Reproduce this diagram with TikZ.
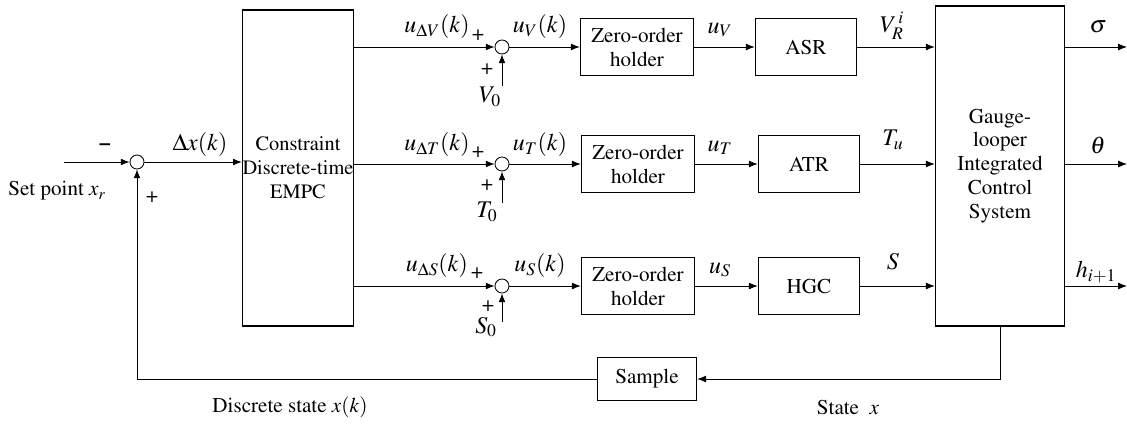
\documentclass[tikz,border=0pt]{standalone}
\usepackage[T1]{fontenc}
\usepackage{mathptmx}
\usetikzlibrary{arrows.meta}
\begin{document}
\begin{tikzpicture}[x=0.025cm,y=-0.025cm,font=\fontsize{15}{17}\selectfont]
\tikzstyle{blk}=[draw,line width=1pt,inner sep=0pt,align=center]
\tikzstyle{sm}=[draw,circle,minimum size=0.35cm,inner sep=0pt,line width=0.6pt]
\tikzstyle{ln}=[line width=0.6pt,-{Latex[length=2.2mm,width=1.7mm]}]
\tikzstyle{lb}=[font=\fontsize{17}{19}\selectfont]
\useasboundingbox (0,0) rectangle (1127,424);
% blocks
\node[blk,minimum width=2.75cm,minimum height=7.9cm,font=\fontsize{14.5}{17}\selectfont] (E) at (298,168) {Constraint\\Discrete-time\\EMPC};
\node[blk,minimum width=3.225cm,minimum height=8cm] (G) at (1000,166) {Gauge-\\looper\\Integrated\\Control\\System};
\node[blk,minimum width=2.825cm,minimum height=1.425cm] (Z1) at (637,47) {Zero-order\\holder};
\node[blk,minimum width=2.825cm,minimum height=1.425cm] (Z2) at (638,164) {Zero-order\\holder};
\node[blk,minimum width=2.825cm,minimum height=1.425cm] (Z3) at (638,286) {Zero-order\\holder};
\node[blk,minimum width=2.525cm,minimum height=1.425cm] (A1) at (806,47) {ASR};
\node[blk,minimum width=2.525cm,minimum height=1.425cm] (A2) at (809,164) {ATR};
\node[blk,minimum width=2.525cm,minimum height=1.425cm] (A3) at (809,286) {HGC};
\node[blk,minimum width=2.475cm,minimum height=1.075cm] (P) at (647,379) {Sample};
% summing points
\node[sm] (S) at (137,162) {};
\node[sm] (S1) at (502,47) {};
\node[sm] (S2) at (502,164) {};
\node[sm] (S3) at (502,286) {};
\coordinate (in) at (64,162);
\coordinate (v0) at (502,86);
\coordinate (t0) at (502,203);
\coordinate (s0) at (502,322);
\coordinate (o1) at (1127,47);
\coordinate (o2) at (1127,164);
\coordinate (o3) at (1127,286);
% connectors
\draw[ln] (in) -- (S);
\draw[ln] (S) -- (S -| E.west);
\draw[ln] (E.east |- S1) -- (S1);
\draw[ln] (E.east |- S2) -- (S2);
\draw[ln] (E.east |- S3) -- (S3);
\draw[ln] (v0) -- (S1);
\draw[ln] (t0) -- (S2);
\draw[ln] (s0) -- (S3);
\draw[ln] (S1) -- (Z1);
\draw[ln] (S2) -- (Z2);
\draw[ln] (S3) -- (Z3);
\draw[ln] (Z1) -- (A1);
\draw[ln] (Z2) -- (A2);
\draw[ln] (Z3) -- (A3);
\draw[ln] (A1) -- (A1 -| G.west);
\draw[ln] (A2) -- (A2 -| G.west);
\draw[ln] (A3) -- (A3 -| G.west);
\draw[ln] (G.east |- o1) -- (o1);
\draw[ln] (G.east |- o2) -- (o2);
\draw[ln] (G.east |- o3) -- (o3);
\draw[ln] (G.south) |- (P.east);
\draw[ln] (P.west) -| (S.south);
% labels
\node (mi) at (105,147) {\textbf{--}};
\node (pl) at (152,197) {+};
\node[lb] (dx) at (200,145) {$\Delta x(k)$};
\node (sp) at (57,191) {Set point $x_r$};
\node[lb] (l1) at (437,27) {$u_{\Delta V}(k)$};
\node[lb] (l2) at (437,145) {$u_{\Delta T}(k)$};
\node[lb] (l3) at (437,266) {$u_{\Delta S}(k)$};
\node (p1) at (478,35) {+};
\node (p2) at (478,152) {+};
\node (p3) at (477,273) {+};
\node (q1) at (487,69) {+};
\node (q2) at (487,185) {+};
\node (q3) at (488,306) {+};
\node[lb] (V0) at (490,97) {$V_0$};
\node[lb] (T0) at (487,212) {$T_0$};
\node[lb] (Sz) at (486,327) {$S_0$};
\node[lb] (k1) at (540,27) {$u_V(k)$};
\node[lb] (k2) at (540,145) {$u_T(k)$};
\node[lb] (k3) at (540,266) {$u_S(k)$};
\node[lb] (m1) at (720,30) {$u_V$};
\node[lb] (m2) at (720,148) {$u_T$};
\node[lb] (m3) at (720,270) {$u_S$};
\node[lb] (n1) at (892,26) {$V_R^{\,i}$};
\node[lb] (n2) at (893,140) {$T_u$};
\node[lb] (n3) at (893,262) {$S$};
\node[lb] (r1) at (1098,27) {$\sigma$};
\node[lb] (r2) at (1098,145) {$\theta$};
\node[lb] (r3) at (1096,272) {$h_{i+1}$};
\node (ds) at (290,407) {Discrete state $x(k)$};
\node (st) at (848,407) {State \ $x$};
\end{tikzpicture}
\end{document}
